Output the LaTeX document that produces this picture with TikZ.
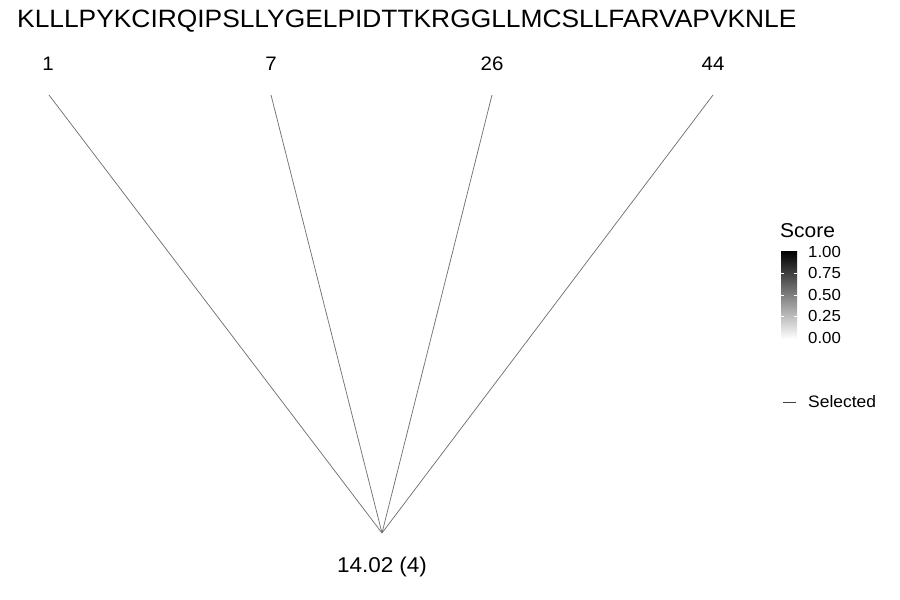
\documentclass[tikz,border=0pt]{standalone}
\usepackage{fontspec}
\setmainfont{Liberation Sans}[FakeStretch=1.05]
\tikzset{
  lbl/.style={inner sep=0pt, text=black},
  edge/.style={draw=black!55, line width=0.75pt},
  tickw/.style={draw=white, line width=0.5pt},
}
\begin{document}
\begin{tikzpicture}[x=1pt,y=-1pt]
\useasboundingbox (0,0) rectangle (900,600);
% title
\node[lbl, anchor=west, font=\fontsize{25.1}{27}\selectfont] (title) at (17,21) {KLLLPYKCIRQIPSLLYGELPIDTTKRGGLLMCSLLFARVAPVKNLE};
% position labels
\node[lbl, font=\fontsize{19.5}{21}\selectfont] (n1) at (48,64) {1};
\node[lbl, font=\fontsize{19.5}{21}\selectfont] (n7) at (271,64) {7};
\node[lbl, font=\fontsize{19.5}{21}\selectfont] (n26) at (492,64) {26};
\node[lbl, font=\fontsize{19.5}{21}\selectfont] (n44) at (713,64) {44};
% endpoints
\coordinate (t1) at (49,95);
\coordinate (t7) at (271,95);
\coordinate (t26) at (492,95);
\coordinate (t44) at (713,95);
\coordinate (root) at (382,533);
\draw[edge] (t1) -- (root);
\draw[edge] (t7) -- (root);
\draw[edge] (t26) -- (root);
\draw[edge] (t44) -- (root);
\node[lbl, font=\fontsize{21.4}{23}\selectfont] (score) at (382,567) {14.02 (4)};
% legend
\node[lbl, anchor=west, font=\fontsize{20}{22}\selectfont] (leg) at (780,231) {Score};
\shade[top color=black, bottom color=white] (781,251) rectangle (797,339);
\foreach \yy in {273, 295, 316} {
  \draw[tickw] (781,\yy) -- (784,\yy);
  \draw[tickw] (794,\yy) -- (797,\yy);
}
\node[lbl, anchor=west, font=\fontsize{16}{18}\selectfont] (k100) at (808,252) {1.00};
\node[lbl, anchor=west, font=\fontsize{16}{18}\selectfont] (k075) at (808,273) {0.75};
\node[lbl, anchor=west, font=\fontsize{16}{18}\selectfont] (k050) at (808,295) {0.50};
\node[lbl, anchor=west, font=\fontsize{16}{18}\selectfont] (k025) at (808,316) {0.25};
\node[lbl, anchor=west, font=\fontsize{16}{18}\selectfont] (k000) at (808,338) {0.00};
\coordinate (sa) at (783,402);
\coordinate (sb) at (796,402);
\draw[draw=black!75, line width=0.8pt] (sa) -- (sb);
\node[lbl, anchor=west, font=\fontsize{16.6}{18}\selectfont] (sel) at (808,402) {Selected};
\end{tikzpicture}
\end{document}
